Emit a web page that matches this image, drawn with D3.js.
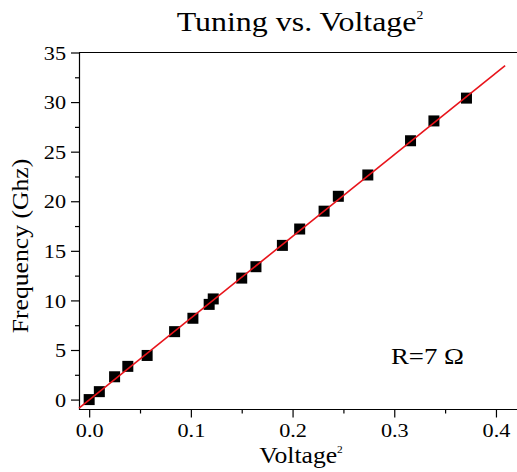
<!DOCTYPE html>
<html>
<head>
<meta charset="utf-8">
<script src="https://cdn.jsdelivr.net/npm/d3@7"></script>
<style>
  body { margin: 0; background: #fff; }
</style>
</head>
<body>
<svg id="chart" width="517" height="472"></svg>
<script>
// measured points: V^2 vs tuning frequency
var voltageSq = [0.000, 0.010, 0.025, 0.038, 0.057, 0.084, 0.102, 0.118, 0.122, 0.150,
                 0.164, 0.190, 0.207, 0.231, 0.245, 0.274, 0.316, 0.339, 0.371];
var freqGhz   = [0.0, 0.8, 2.3, 3.35, 4.45, 6.85, 8.2, 9.6, 10.15, 12.25,
                 13.4, 15.55, 17.2, 19.0, 20.5, 22.65, 26.1, 28.1, 30.4];

// linear fit drawn as red line
var fitX = [-0.01, 0.409];
var fitY = [-0.85, 33.68];

var xTicks = [0, 0.1, 0.2, 0.3, 0.4];
var xMinor = [0.05, 0.15, 0.25, 0.35];
var yTicks = [0, 5, 10, 15, 20, 25, 30, 35];
var yMinor = [2.5, 7.5, 12.5, 17.5, 22.5, 27.5, 32.5];

var FONT = '"Liberation Serif", "Times New Roman", serif';
var SX = 1.14; // glyphs in the source are a bit wider than Times

var svg = d3.select('#chart');

var x = d3.scaleLinear().domain([-0.01, 0.42]).range([79, 516.3]);
var y = d3.scaleLinear().domain([-1, 35]).range([409.5, 52.5]);

var plotLeft = x.range()[0], plotBottom = y.range()[0], plotTop = y.range()[1];

// frame top line (right side runs off the picture)
svg.append('line')
  .attr('x1', plotLeft).attr('x2', 520)
  .attr('y1', plotTop).attr('y2', plotTop)
  .attr('stroke', '#000').attr('stroke-width', 1.2);

// minor ticks
svg.append('g')
  .attr('transform', 'translate(0,' + plotBottom + ')')
  .call(d3.axisBottom(x).tickValues(xMinor).tickSize(4).tickFormat(''))
  .call(function (g) { g.select('.domain').remove(); });
svg.append('g')
  .attr('transform', 'translate(' + plotLeft + ',0)')
  .call(d3.axisLeft(y).tickValues(yMinor).tickSize(4).tickFormat(''))
  .call(function (g) { g.select('.domain').remove(); });

// major axes
var xAxis = svg.append('g')
  .attr('transform', 'translate(0,' + plotBottom + ')')
  .call(d3.axisBottom(x).tickValues(xTicks).tickSize(8).tickSizeOuter(0)
    .tickFormat(d3.format('.1f')));
xAxis.select('.domain').attr('d', 'M' + plotLeft + ',0H520');
xAxis.selectAll('.tick text')
  .attr('y', 0)
  .attr('dy', 0)
  .attr('transform', 'translate(0,27) scale(' + SX + ',1)')
  .style('font-family', FONT)
  .style('font-size', '19.5px');

var yAxis = svg.append('g')
  .attr('transform', 'translate(' + plotLeft + ',0)')
  .call(d3.axisLeft(y).tickValues(yTicks).tickSize(8).tickSizeOuter(0));
yAxis.selectAll('.tick text')
  .attr('x', 0)
  .attr('dy', '0.34em')
  .attr('transform', 'translate(-13,0) scale(' + SX + ',1)')
  .style('font-family', FONT)
  .style('font-size', '19.5px');

svg.selectAll('.domain, .tick line').attr('stroke', '#000').attr('stroke-width', 1.2);

// fit line
var fitLine = d3.line()
  .x(function (d) { return x(d[0]); })
  .y(function (d) { return y(d[1]); });

// square markers
var S = 11;
svg.append('g').selectAll('rect')
  .data(d3.zip(voltageSq, freqGhz))
  .join('rect')
  .attr('x', function (d) { return x(d[0]) - S / 2; })
  .attr('y', function (d) { return y(d[1]) - S / 2; })
  .attr('width', S).attr('height', S)
  .attr('fill', '#000');

svg.append('path')
  .datum(d3.zip(fitX, fitY))
  .attr('d', fitLine)
  .attr('fill', 'none')
  .attr('stroke', '#e8141b')
  .attr('stroke-width', 1.6);

// title
var title = svg.append('text')
  .attr('transform', 'translate(300,31) scale(' + SX + ',1)')
  .attr('text-anchor', 'middle')
  .style('font-family', FONT)
  .style('font-size', '28px');
title.append('tspan').text('Tuning vs. Voltage');
title.append('tspan').attr('dy', -12).style('font-size', '12px').text('2');

// x label
var xl = svg.append('text')
  .attr('transform', 'translate(301,463) scale(' + SX + ',1)')
  .attr('text-anchor', 'middle')
  .style('font-family', FONT)
  .style('font-size', '22.5px');
xl.append('tspan').text('Voltage');
xl.append('tspan').attr('dy', -10).style('font-size', '10px').text('2');

// y label
svg.append('text')
  .attr('transform', 'translate(28,246) rotate(-90) scale(' + SX + ',1)')
  .attr('text-anchor', 'middle')
  .style('font-family', FONT)
  .style('font-size', '22.5px')
  .text('Frequency (Ghz)');

// annotation
svg.append('text')
  .attr('transform', 'translate(391,364) scale(' + SX + ',1)')
  .style('font-family', FONT)
  .style('font-size', '23.5px')
  .text('R=7 \u03A9');
</script>
</body>
</html>
